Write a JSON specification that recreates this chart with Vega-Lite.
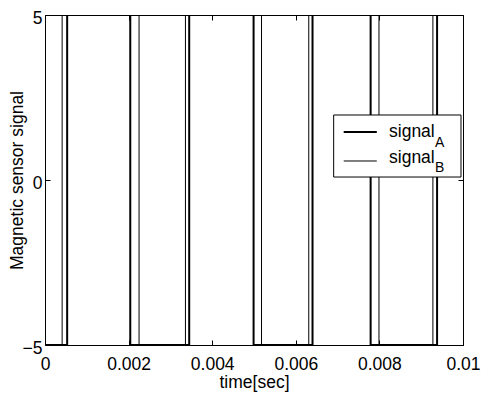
{
  "$schema": "https://vega.github.io/schema/vega-lite/v6.json",
  "autosize": {"type": "none"},
  "padding": {"left": 45, "top": 15, "right": 20, "bottom": 49},
  "width": 418,
  "height": 330,
  "background": "white",
  "config": {
    "font": "Liberation Sans",
    "view": {"stroke": "black", "strokeWidth": 1},
    "axis": {
      "domain": false,
      "grid": false,
      "tickColor": "black",
      "tickSize": -5,
      "labelColor": "black",
      "labelFont": "Liberation Sans",
      "labelFontSize": 17.5,
      "titleFont": "Liberation Sans",
      "titleFontSize": 17.5,
      "titleFontWeight": "normal",
      "titleColor": "black",
      "labelFlush": false,
      "labelOverlap": false
    }
  },
  "resolve": {"axis": {"x": "independent", "y": "independent"}},
  "layer": [
    {
      "data": {"values": [
        {"signal": "A", "time": 0, "value": -5},
        {"signal": "A", "time": 0.00053, "value": 5},
        {"signal": "A", "time": 0.00204, "value": -5},
        {"signal": "A", "time": 0.00345, "value": 5},
        {"signal": "A", "time": 0.00499, "value": -5},
        {"signal": "A", "time": 0.0064, "value": 5},
        {"signal": "A", "time": 0.00779, "value": -5},
        {"signal": "A", "time": 0.00938, "value": 5},
        {"signal": "A", "time": 0.01, "value": 5},
        {"signal": "B", "time": 0, "value": -5},
        {"signal": "B", "time": 0.00041, "value": 5},
        {"signal": "B", "time": 0.00225, "value": -5},
        {"signal": "B", "time": 0.00336, "value": 5},
        {"signal": "B", "time": 0.00518, "value": -5},
        {"signal": "B", "time": 0.00631, "value": 5},
        {"signal": "B", "time": 0.00799, "value": -5},
        {"signal": "B", "time": 0.00928, "value": 5},
        {"signal": "B", "time": 0.01, "value": 5}
      ]},
      "mark": {"type": "line", "interpolate": "step-after", "color": "black", "clip": true},
      "encoding": {
        "x": {"field": "time", "type": "quantitative",
              "scale": {"domain": [0, 0.01], "nice": false, "zero": false},
              "axis": {"orient": "bottom", "values": [0, 0.002, 0.004, 0.006, 0.008, 0.01], "format": "~g",
                       "labelPadding": 15, "title": "time[sec]", "titlePadding": 1}},
        "y": {"field": "value", "type": "quantitative",
              "scale": {"domain": [-5, 5], "nice": false, "zero": false},
              "axis": {"orient": "left", "values": [-5, 0, 5], "labelPadding": 8, "labelOffset": 3,
                       "title": "Magnetic sensor signal", "titlePadding": -4}},
        "detail": {"field": "signal", "type": "nominal"},
        "strokeWidth": {"field": "signal", "type": "nominal",
                        "scale": {"domain": ["A", "B"], "range": [2, 1]}, "legend": null}
      }
    },
    {
      "data": {"values": [
        {"time": 0, "value": -5},
        {"time": 0.01, "value": 5}
      ]},
      "mark": {"type": "point", "opacity": 0},
      "encoding": {
        "x": {"field": "time", "type": "quantitative",
              "axis": {"orient": "top", "values": [0, 0.002, 0.004, 0.006, 0.008, 0.01], "labels": false, "title": null}},
        "y": {"field": "value", "type": "quantitative",
              "axis": {"orient": "right", "values": [-5, 0, 5], "labels": false, "title": null}}
      }
    },
    {
      "data": {"values": [{}]},
      "mark": {"type": "rect", "fill": "white", "stroke": "black", "strokeWidth": 1},
      "encoding": {
        "x": {"datum": 0.006906, "type": "quantitative", "axis": null},
        "x2": {"datum": 0.009952},
        "y": {"datum": 1.97, "type": "quantitative", "axis": null},
        "y2": {"datum": 0.09}
      }
    },
    {
      "data": {"values": [{}]},
      "mark": {"type": "rule", "color": "black", "strokeWidth": 2},
      "encoding": {
        "x": {"datum": 0.007146, "type": "quantitative", "axis": null},
        "x2": {"datum": 0.007938},
        "y": {"datum": 1.455, "type": "quantitative", "axis": null}
      }
    },
    {
      "data": {"values": [{}]},
      "mark": {"type": "rule", "color": "black", "strokeWidth": 1},
      "encoding": {
        "x": {"datum": 0.007146, "type": "quantitative", "axis": null},
        "x2": {"datum": 0.007938},
        "y": {"datum": 0.576, "type": "quantitative", "axis": null}
      }
    },
    {
      "data": {"values": [{}]},
      "mark": {"type": "text", "text": "signal", "align": "left", "baseline": "alphabetic", "fontSize": 17.5, "color": "black"},
      "encoding": {
        "x": {"datum": 0.00823, "type": "quantitative", "axis": null},
        "y": {"datum": 1.303, "type": "quantitative", "axis": null}
      }
    },
    {
      "data": {"values": [{}]},
      "mark": {"type": "text", "text": "A", "align": "left", "baseline": "alphabetic", "fontSize": 14, "color": "black"},
      "encoding": {
        "x": {"datum": 0.00933, "type": "quantitative", "axis": null},
        "y": {"datum": 1.0, "type": "quantitative", "axis": null}
      }
    },
    {
      "data": {"values": [{}]},
      "mark": {"type": "text", "text": "signal", "align": "left", "baseline": "alphabetic", "fontSize": 17.5, "color": "black"},
      "encoding": {
        "x": {"datum": 0.00823, "type": "quantitative", "axis": null},
        "y": {"datum": 0.515, "type": "quantitative", "axis": null}
      }
    },
    {
      "data": {"values": [{}]},
      "mark": {"type": "text", "text": "B", "align": "left", "baseline": "alphabetic", "fontSize": 14, "color": "black"},
      "encoding": {
        "x": {"datum": 0.00933, "type": "quantitative", "axis": null},
        "y": {"datum": 0.242, "type": "quantitative", "axis": null}
      }
    }
  ]
}
